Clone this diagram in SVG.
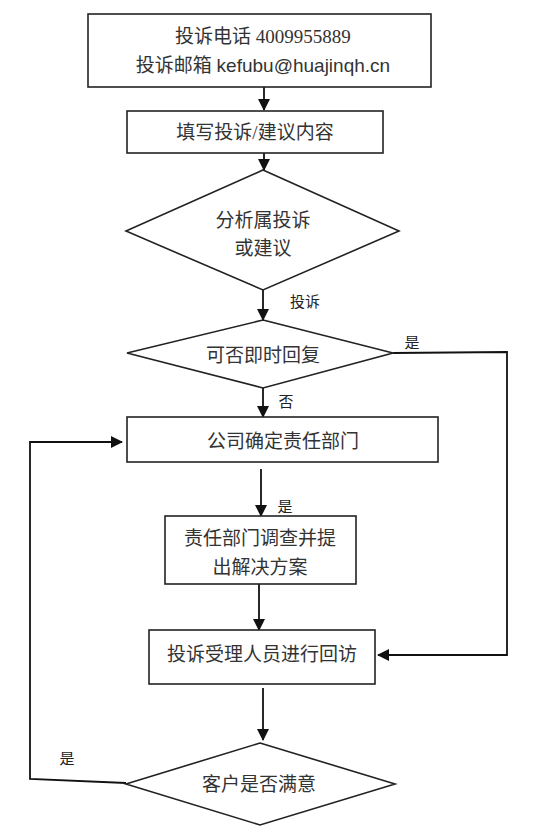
<svg xmlns="http://www.w3.org/2000/svg" width="538" height="836" viewBox="0 0 538 836">
<style>
.n{fill:#fff;stroke:#222;stroke-width:1.6}
.t{font-family:"Liberation Serif","Noto Sans CJK SC",serif;font-size:19px;fill:#333;text-anchor:middle;dominant-baseline:central}
.l{font-family:"Liberation Serif","Noto Sans CJK SC",serif;font-size:15px;fill:#222;text-anchor:middle;dominant-baseline:central}
.c{fill:none;stroke:#111;stroke-width:1.8}
</style>
<defs>
<marker id="a" markerUnits="userSpaceOnUse" markerWidth="12" markerHeight="12" viewBox="0 0 12 12" refX="11" refY="6" orient="auto">
<path d="M0,0 L12,6 L0,12 Z" fill="#111"/>
</marker>
</defs>
<rect width="538" height="836" fill="#fff"/>
<g id="connectors">
<line class="c" x1="264" y1="87" x2="264" y2="110" marker-end="url(#a)"/>
<line class="c" x1="264" y1="153" x2="264" y2="170" marker-end="url(#a)"/>
<line class="c" x1="263" y1="290" x2="263" y2="320" marker-end="url(#a)"/>
<line class="c" x1="263" y1="388" x2="263" y2="417" marker-end="url(#a)"/>
<polyline class="c" points="393,353 507,352 507,655 378,655" marker-end="url(#a)"/>
<line class="c" x1="261" y1="469" x2="261" y2="516" marker-end="url(#a)"/>
<line class="c" x1="259" y1="584" x2="259" y2="630" marker-end="url(#a)"/>
<line class="c" x1="263" y1="688" x2="263" y2="740" marker-end="url(#a)"/>
<polyline class="c" points="126,783 30,779 30,442 122,442" marker-end="url(#a)"/>
<text class="l" x="305" y="302">投诉</text>
<text class="l" x="412" y="343">是</text>
<text class="l" x="286" y="402">否</text>
<text class="l" x="285" y="507">是</text>
<text class="l" x="67" y="759">是</text>
</g>
<g id="n1">
<rect class="n" x="88" y="14" width="343" height="73"/>
<text class="t" x="263" y="36">投诉电话 4009955889</text>
<text class="t" x="263" y="65"><tspan>投诉邮箱 </tspan><tspan font-family="Liberation Sans">kefubu@huajinqh.cn</tspan></text>
</g>
<g id="n2">
<rect class="n" x="127" y="111" width="256" height="42"/>
<text class="t" x="255" y="132">填写投诉/建议内容</text>
</g>
<g id="n3">
<polygon class="n" points="263,170 399,231 263,290 126,231"/>
<text class="t" x="263" y="220">分析属投诉</text>
<text class="t" x="263" y="248">或建议</text>
</g>
<g id="n4">
<polygon class="n" points="263,320 393,353 263,388 127,353"/>
<text class="t" x="263" y="355">可否即时回复</text>
</g>
<g id="n5">
<rect class="n" x="127" y="417" width="311" height="45"/>
<text class="t" x="283" y="441">公司确定责任部门</text>
</g>
<g id="n6">
<rect class="n" x="165" y="516" width="191" height="68"/>
<text class="t" x="260" y="538">责任部门调查并提</text>
<text class="t" x="260" y="567">出解决方案</text>
</g>
<g id="n7">
<rect class="n" x="149" y="630" width="226" height="54"/>
<text class="t" x="262" y="654">投诉受理人员进行回访</text>
</g>
<g id="n8">
<polygon class="n" points="260,743 395,784 260,825 126,784"/>
<text class="t" x="259" y="784">客户是否满意</text>
</g>
</svg>
